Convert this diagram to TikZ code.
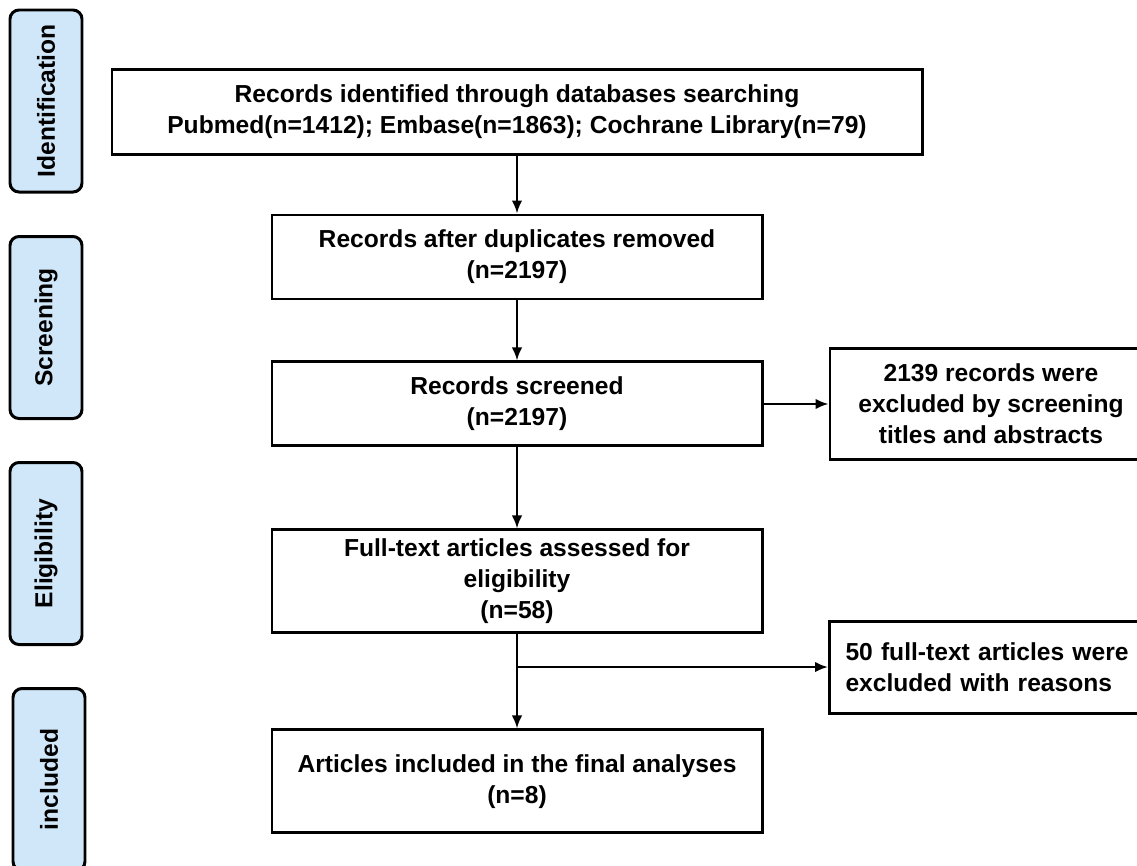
\documentclass[tikz,border=0pt]{standalone}
\usepackage{fontspec}
\setmainfont{Liberation Sans}
\usetikzlibrary{arrows.meta, positioning}
\definecolor{phaseblue}{RGB}{207,231,249}

\begin{document}
\begin{tikzpicture}[x = 0.2mm, y = -0.2mm, node distance = 11.6mm and 13mm, font = \fontsize{14}{17.6}\selectfont\bfseries]
\tikzstyle{box} = [rectangle, draw = black, line width = 1.7pt, align = center, inner sep = 1mm, minimum width = 98mm]
\tikzstyle{phase} = [rectangle, rounded corners = 1.8mm, draw = black, line width = 1.7pt, fill = phaseblue, minimum width = 36.4mm, minimum height = 14.4mm, rotate = 90]
\tikzstyle{connect} = [-{Latex[length = 2.6mm, width = 2.1mm]}, line width = 1.3pt]
  \useasboundingbox (0,0) rectangle (1137,865);
  % phases on the left
  \node[phase] (ident) at (46,101) {Identification};
  \node[phase] (screen) at (46,327.5) {Screening};
  \node[phase] (elig) at (46,553.5) {Eligibility};
  \node[phase] (incl) at (49,779.5) {included};
  % main column
  \node[box, minimum width = 162mm, minimum height = 17mm] (found) at (517,111.5) {Records identified through databases searching\\Pubmed(n=1412); Embase(n=1863); Cochrane Library(n=79)};
  \node[box, below=of found, minimum height = 16.8mm] (dedup) {Records after duplicates removed\\(n=2197)};
  \node[box, below=12mm of dedup, minimum height = 16.8mm] (screened) {Records screened\\(n=2197)};
  \node[box, below=16.2mm of screened, minimum height = 20.6mm] (fulltext) {Full-text articles assessed for\\eligibility\\(n=58)};
  \node[box, below=18.8mm of fulltext, minimum height = 20.6mm] (final) {Articles included in the final analyses\\(n=8)};
  % exclusions
  \node[box, right=of screened, minimum width = 64.4mm, minimum height = 22.2mm] (excl1) {2139 records were\\excluded by screening\\titles and abstracts};
  \node[box, anchor=west, align=left, text width = 58mm, minimum width = 64.4mm, minimum height = 18.4mm] (excl2) at (828,667) {50 full-text articles were\\excluded with reasons};
  \coordinate (split) at (fulltext.south |- excl2.west);
\path (found) edge [connect] (dedup) (dedup) edge [connect] (screened) (screened) edge [connect] (fulltext) (fulltext) edge [connect] (final) (screened) edge [connect] (excl1);
\draw[connect] (split) -- (excl2);
\end{tikzpicture}
\end{document}
